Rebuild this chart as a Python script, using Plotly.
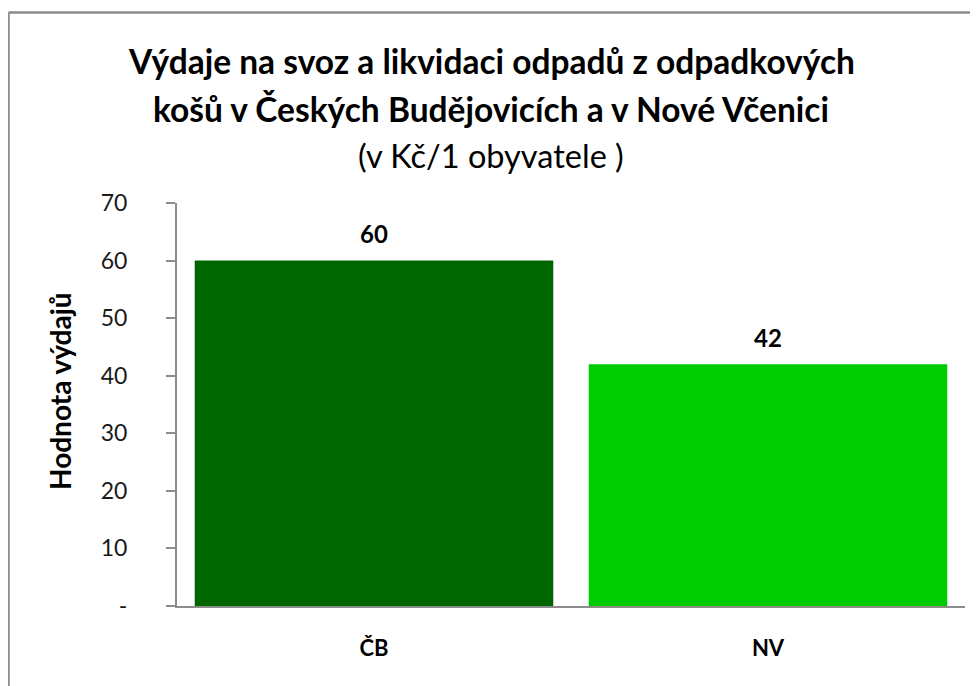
import plotly.graph_objects as go

categories = ["ČB", "NV"]
values = [60, 42]
bar_colors = ["#006600", "#00CC00"]
y_tickvals = [0, 10, 20, 30, 40, 50, 60, 70]
y_ticktext = ["-", "10", "20", "30", "40", "50", "60", "70"]

title_line1 = "Výdaje na svoz a likvidaci odpadů z odpadkových"
title_line2 = "košů v Českých Budějovicích a v Nové Včenici"
subtitle = "(v Kč/1 obyvatele )"
y_title = "Hodnota výdajů"

FONT = "Lato"
OFF = 8  # page body margin
W, H = 978, 686
L, R, T = 177 - OFF, 21, 203 - OFF
B = H - (606 - OFF)
pw, ph = W - L - R, H - T - B

def px_x(x):  # screenshot x -> paper
    return (x - OFF - L) / pw

def px_y(y):  # screenshot y -> paper
    return (H - B - (y - OFF)) / ph

fig = go.Figure()
fig.add_trace(go.Bar(
    x=categories, y=values,
    marker=dict(color=bar_colors, line=dict(width=0)),
    width=0.91,
    hoverinfo="x+y",
))

annotations = []
for c, v in zip(categories, values):
    annotations.append(dict(
        x=c, y=v, xref="x", yref="y", text=f"<b>{v}</b>", showarrow=False,
        yshift=27, font=dict(family=FONT, size=24, color="#000000"),
    ))

annotations += [
    dict(x=px_x(491), y=px_y(61), xref="paper", yref="paper", text=f"<b>{title_line1}</b>",
         showarrow=False, xanchor="center", yanchor="middle",
         font=dict(family=FONT, size=33.5, color="#000000")),
    dict(x=px_x(491), y=px_y(109), xref="paper", yref="paper", text=f"<b>{title_line2}</b>",
         showarrow=False, xanchor="center", yanchor="middle",
         font=dict(family=FONT, size=33.5, color="#000000")),
    dict(x=px_x(491), y=px_y(155), xref="paper", yref="paper", text=subtitle,
         showarrow=False, xanchor="center", yanchor="middle",
         font=dict(family=FONT, size=32.5, color="#000000")),
    dict(x=px_x(60), y=px_y(391), xref="paper", yref="paper", text=f"<b>{y_title}</b>",
         showarrow=False, xanchor="center", yanchor="middle", textangle=-90,
         font=dict(family=FONT, size=28, color="#000000")),
]

border = dict(color="#8c8c8c", width=2.5)
fig.update_layout(
    width=W, height=H,
    margin=dict(l=L, r=R, t=T, b=B, pad=0),
    paper_bgcolor="white", plot_bgcolor="white",
    showlegend=False,
    bargap=0.09,
    annotations=annotations,
    shapes=[
        dict(type="line", xref="paper", yref="paper",
             x0=px_x(8.5), x1=px_x(8.5), y0=px_y(686), y1=px_y(12.5), line=border),
        dict(type="line", xref="paper", yref="paper",
             x0=px_x(8.5), x1=px_x(978), y0=px_y(12.5), y1=px_y(12.5), line=border),
    ],
)

fig.update_xaxes(
    showgrid=False, zeroline=False,
    showline=True, linecolor="#8c8c8c", linewidth=2,
    ticks="", ticklabelstandoff=22,
    tickfont=dict(family=FONT, size=22, color="#000000", weight="bold"),
)
fig.update_yaxes(
    range=[0, 70], showgrid=False, zeroline=False,
    showline=True, linecolor="#8c8c8c", linewidth=2,
    tickvals=y_tickvals, ticktext=y_ticktext,
    ticks="outside", ticklen=9, tickcolor="#8c8c8c", tickwidth=2,
    ticklabelstandoff=34,
    tickfont=dict(family=FONT, size=23, color="#1a1a1a"),
)

fig.write_html("out.html")
